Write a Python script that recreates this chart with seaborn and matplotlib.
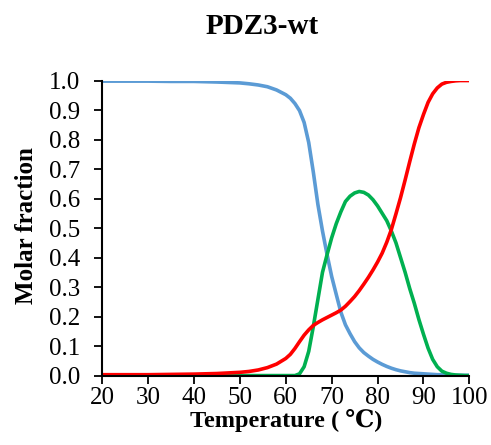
import numpy as np
import pandas as pd
import matplotlib
matplotlib.use("Agg")
import matplotlib.pyplot as plt
from matplotlib.ticker import FormatStrFormatter
import seaborn as sns

sns.set_theme(style="white")
plt.rcParams['font.family'] = ['Liberation Serif', 'DejaVu Serif', 'DejaVu Sans']

# Data
temperature = [20, 25, 30, 35, 40, 45, 50, 52, 54, 56, 58,
               60, 61, 62, 63, 64, 65, 66, 67, 68, 69,
               70, 71, 72, 73, 74, 75, 76, 77, 78, 79,
               80, 81, 82, 83, 84, 85, 86, 87, 88, 89,
               90, 91, 92, 93, 94, 95, 96, 97, 98, 99, 100]

native = [0.998, 0.998, 0.998, 0.997, 0.997, 0.995, 0.992, 0.989, 0.985, 0.979, 0.968,
          0.952, 0.940, 0.922, 0.898, 0.858, 0.790, 0.690, 0.580, 0.490, 0.410,
          0.336, 0.275, 0.215, 0.172, 0.142, 0.115, 0.094, 0.078, 0.066, 0.055,
          0.046, 0.038, 0.031, 0.025, 0.020, 0.016, 0.013, 0.010, 0.008, 0.007,
          0.006, 0.005, 0.004, 0.003, 0.003, 0.002, 0.002, 0.001, 0.001, 0.001, 0.001]

intermediate = [0, 0, 0, 0, 0, 0, 0, 0, 0, 0, 0,
                0, 0, 0, 0.006, 0.030, 0.082, 0.166, 0.258, 0.350, 0.410,
                0.467, 0.515, 0.555, 0.590, 0.608, 0.619, 0.624, 0.621, 0.612, 0.596,
                0.575, 0.550, 0.525, 0.490, 0.450, 0.400, 0.350, 0.295, 0.245, 0.190,
                0.140, 0.093, 0.055, 0.030, 0.015, 0.008, 0.004, 0.002, 0.001, 0, 0]

unfolded = [0.003, 0.003, 0.003, 0.004, 0.005, 0.007, 0.011, 0.014, 0.019, 0.027, 0.039,
            0.058, 0.072, 0.092, 0.115, 0.137, 0.155, 0.170, 0.180, 0.189, 0.197,
            0.205, 0.213, 0.222, 0.235, 0.251, 0.268, 0.288, 0.310, 0.333, 0.358,
            0.385, 0.415, 0.452, 0.495, 0.548, 0.603, 0.663, 0.725, 0.785, 0.840,
            0.885, 0.926, 0.955, 0.975, 0.988, 0.994, 0.997, 0.999, 1.0, 1.0, 1.0]

colors = {"native": "#5B9BD5", "intermediate": "#00B050", "unfolded": "#FF0000"}

fig = plt.figure(figsize=(4.91, 4.45), dpi=100)
ax = fig.add_axes([0.208, 0.156, 0.748, 0.663])

sns.lineplot(x=temperature, y=native, color=colors["native"], linewidth=2.6, ax=ax)
sns.lineplot(x=temperature, y=intermediate, color=colors["intermediate"], linewidth=2.6, ax=ax)
sns.lineplot(x=temperature, y=unfolded, color=colors["unfolded"], linewidth=2.6, ax=ax)

ax.set_xlim(20, 100)
ax.set_ylim(0, 1.0)
ax.set_xticks(np.arange(20, 101, 10))
ax.set_yticks(np.arange(0, 1.01, 0.1))
ax.yaxis.set_major_formatter(FormatStrFormatter('%.1f'))
sns.despine(ax=ax)
for side in ["left", "bottom"]:
    ax.spines[side].set_color("black")
    ax.spines[side].set_linewidth(1.5)
ax.tick_params(axis="both", direction="out", length=5.5, width=1.3, color="black",
               labelsize=18, labelcolor="black", left=True, bottom=True)
ax.tick_params(axis="y", pad=10)
ax.tick_params(axis="x", pad=2.5)

ax.set_xlabel("Temperature ( \u2103)", fontsize=17.5, fontweight="bold", color="black")
ax.set_ylabel("Molar fraction", fontsize=18, fontweight="bold", color="black")
ax.xaxis.set_label_coords(0.5, -0.112)
ax.yaxis.set_label_coords(-0.175, 0.507)

fig.text(0.534, 0.941, "PDZ3-wt", ha="center", va="center",
         fontsize=21, fontweight="bold", color="black")

fig.savefig("out.png", dpi=100)
